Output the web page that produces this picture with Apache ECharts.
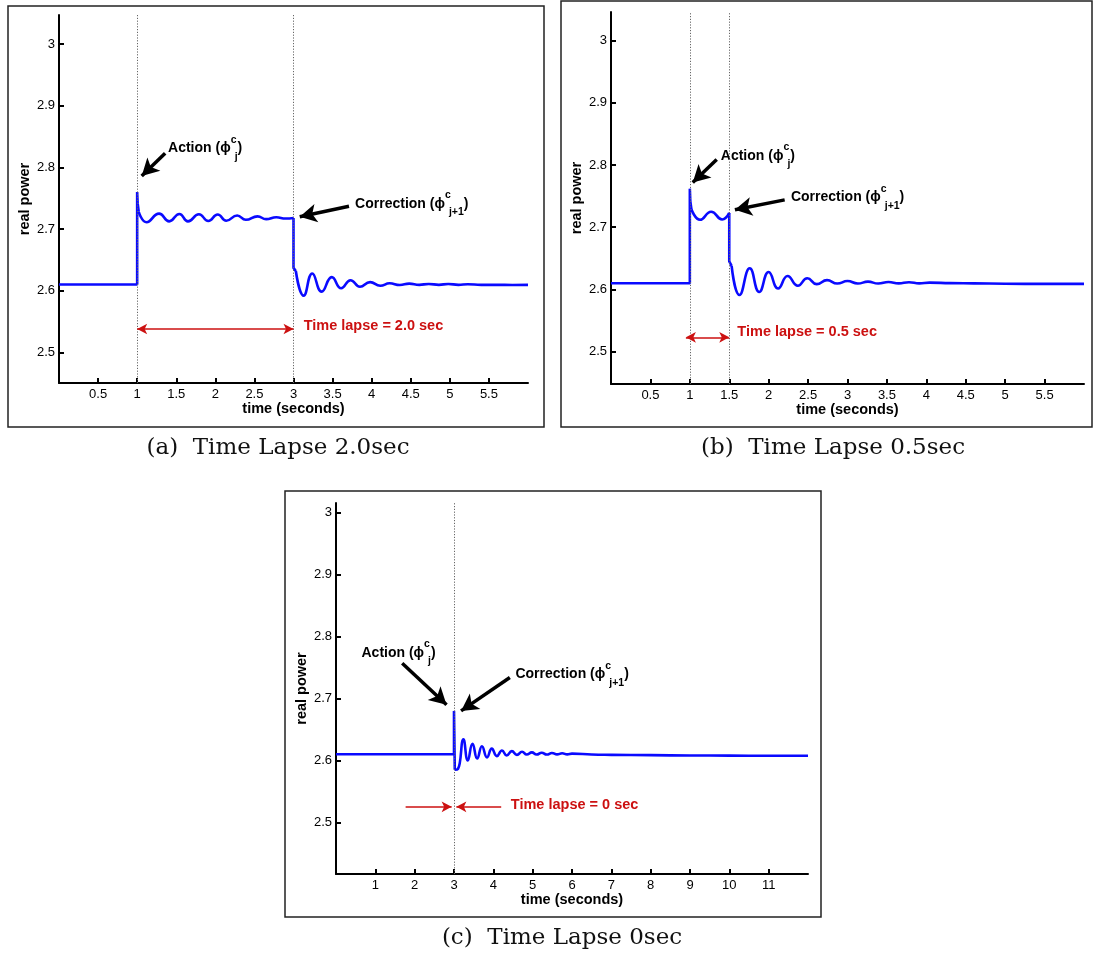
<!DOCTYPE html>
<html><head><meta charset="utf-8">
<script src="https://cdn.jsdelivr.net/npm/echarts@6/dist/echarts.min.js"></script>
<style>html,body{margin:0;padding:0;background:#fff}#c{width:1093px;height:957px}</style>
</head><body><div id="c"></div>
<script>
// ---- tick labels ----
const xTicksAB = [0.5, 1, 1.5, 2, 2.5, 3, 3.5, 4, 4.5, 5, 5.5];
const xTicksC = [1, 2, 3, 4, 5, 6, 7, 8, 9, 10, 11];
const yTicks = [2.5, 2.6, 2.7, 2.8, 2.9, 3];

// ---- panel (a): time lapse 2.0 s ----
const aBase = [[0, 2.61], [1, 2.61], [1, 2.76], [1.006, 2.742], [1.02, 2.728]];
const aRing1 = [[1.02, 2.728], [1.12, 2.711], [1.28, 2.725], [1.41, 2.7125], [1.54, 2.7245], [1.65, 2.7125], [1.79, 2.724], [1.91, 2.713], [2.03, 2.7235], [2.14, 2.7135], [2.28, 2.722], [2.39, 2.715], [2.54, 2.7205], [2.65, 2.716], [2.78, 2.719], [2.9, 2.717], [3.0, 2.718]];
const aDrop = [[3, 2.718], [3, 2.637], [3.03, 2.632]];
const aRing2 = [[3.03, 2.632], [3.13, 2.592], [3.24, 2.628], [3.36, 2.5985], [3.49, 2.622], [3.61, 2.604], [3.73, 2.617], [3.85, 2.6065], [3.98, 2.614], [4.11, 2.608], [4.23, 2.612], [4.36, 2.6092], [4.48, 2.6115], [4.61, 2.6095], [4.73, 2.611], [4.86, 2.6095], [4.98, 2.611], [5.11, 2.6095], [5.23, 2.6105], [5.4, 2.6095], [5.6, 2.6095], [5.8, 2.6093], [6.0, 2.6095]];

// ---- panel (b): time lapse 0.5 s ----
const bBase = [[0, 2.61], [1, 2.61], [1, 2.762], [1.006, 2.742], [1.02, 2.729]];
const bRing1 = [[1.02, 2.729], [1.13, 2.712], [1.27, 2.725], [1.41, 2.7125], [1.5, 2.723]];
const bDrop = [[1.5, 2.723], [1.5, 2.645], [1.53, 2.638]];
const bRing2 = [[1.53, 2.638], [1.63, 2.591], [1.76, 2.634], [1.88, 2.596], [2.0, 2.628], [2.12, 2.6015], [2.24, 2.6215], [2.37, 2.606], [2.49, 2.618], [2.61, 2.6085], [2.74, 2.615], [2.87, 2.6095], [3.0, 2.6135], [3.13, 2.6095], [3.26, 2.6125], [3.39, 2.6095], [3.52, 2.612], [3.65, 2.6098], [3.78, 2.6115], [3.91, 2.6098], [4.04, 2.611], [4.3, 2.6102], [4.6, 2.6098], [5.0, 2.6092], [5.5, 2.609], [6.0, 2.609]];

// ---- panel (c): time lapse 0 s ----
const cBase = [[0, 2.61], [3, 2.61], [3, 2.68], [3.02, 2.585]];
const cRing = [[3.02, 2.585], [3.1, 2.586], [3.24, 2.634], [3.35, 2.6], [3.47, 2.627], [3.59, 2.603], [3.71, 2.623], [3.84, 2.605], [3.96, 2.619], [4.09, 2.607], [4.22, 2.616], [4.34, 2.608], [4.47, 2.615], [4.6, 2.609], [4.73, 2.614], [4.85, 2.6095], [4.98, 2.613], [5.1, 2.6095], [5.23, 2.6125], [5.36, 2.6095], [5.49, 2.612], [5.62, 2.6098], [5.75, 2.6115], [5.88, 2.6098], [6.0, 2.611], [6.5, 2.6095], [7, 2.609], [8, 2.6085], [9, 2.608], [10, 2.6078], [11, 2.6075], [12, 2.6075]];

const captions = ['(a)  Time Lapse 2.0sec', '(b)  Time Lapse 0.5sec', '(c)  Time Lapse 0sec'];
const lapseTexts = ['Time lapse = 2.0 sec', 'Time lapse = 0.5 sec', 'Time lapse = 0 sec'];

const FONT = "'Liberation Sans', Arial, Helvetica, sans-serif";
const SERIF = "'DejaVu Serif', serif";
const BLUE = '#0a0aff', RED = '#cc1111';

const panels = [
  { grid: { left: 59, top: 15, width: 469, height: 368 }, x: [0, 6], y: [2.4504, 3.047], xt: xTicksAB,
    segs: [[aBase, false], [aRing1, true], [aDrop, false], [aRing2, true]],
    vlines: [1, 3],
    arrows: [[[1.358, 2.823], [1.058, 2.786]], [[3.71, 2.737], [3.08, 2.72]]],
    red: [[[1, 2.538], [3, 2.538], true]],
    actionAt: [1.395, 2.831], corrAt: [3.788, 2.741], lapseAt: [3.13, 2.543],
    box: [8, 6, 536, 421], cap: [278, 448] },
  { grid: { left: 611, top: 12, width: 473, height: 372 }, x: [0, 6], y: [2.448, 3.046], xt: xTicksAB,
    segs: [[bBase, false], [bRing1, true], [bDrop, false], [bRing2, true]],
    vlines: [1, 1.5],
    arrows: [[[1.341, 2.809], [1.037, 2.772]], [[2.203, 2.744], [1.572, 2.728]]],
    red: [[[0.95, 2.523], [1.5, 2.523], true]],
    actionAt: [1.393, 2.815], corrAt: [2.282, 2.748], lapseAt: [1.603, 2.532],
    box: [561, 1, 531, 426], cap: [833, 448] },
  { grid: { left: 336, top: 503, width: 472, height: 371 }, x: [0, 12], y: [2.4166, 3.0157], xt: xTicksC,
    segs: [[cBase, false], [cRing, true]],
    vlines: [3],
    arrows: [[[1.683, 2.757], [2.81, 2.69]], [[4.42, 2.734], [3.18, 2.68]]],
    red: [[[1.77, 2.525], [2.94, 2.525], false], [[4.2, 2.525], [3.06, 2.525], false]],
    actionAt: [0.648, 2.774], corrAt: [4.562, 2.739], lapseAt: [4.445, 2.528],
    box: [285, 491, 536, 426], cap: [562, 938] }
];

const axisName = { fontFamily: FONT, fontWeight: 'bold', fontSize: 14.5, color: '#000' };
const tickLab = { fontFamily: FONT, fontSize: 13, color: '#000' };

const grids = panels.map(p => Object.assign({ containLabel: false, outerBoundsMode: 'none' }, p.grid));
const xAxes = panels.map((p, i) => ({
  type: 'value', gridIndex: i, min: p.x[0], max: p.x[1],
  axisLine: { show: true, onZero: false, lineStyle: { color: '#000', width: 2 } },
  axisTick: { show: true, inside: true, length: 5, customValues: p.xt, lineStyle: { color: '#000', width: 2 } },
  axisLabel: Object.assign({ customValues: p.xt, margin: 5 }, tickLab),
  splitLine: { show: false },
  name: 'time (seconds)', nameLocation: 'middle', nameGap: 18, nameTextStyle: axisName
}));
const yAxes = panels.map((p, i) => ({
  type: 'value', gridIndex: i, min: p.y[0], max: p.y[1],
  axisLine: { show: true, onZero: false, lineStyle: { color: '#000', width: 2 } },
  axisTick: { show: true, inside: true, length: 5, customValues: yTicks, lineStyle: { color: '#000', width: 2 } },
  axisLabel: Object.assign({ customValues: yTicks, margin: 4 }, tickLab),
  splitLine: { show: false },
  name: 'real power', nameLocation: 'middle', nameGap: 27, nameTextStyle: axisName
}));

const series = [];
panels.forEach((p, i) => {
  p.segs.forEach((s, k) => {
    const ser = {
      type: 'line', xAxisIndex: i, yAxisIndex: i, data: s[0], smooth: s[1] ? 0.5 : false,
      showSymbol: false, symbol: 'none', animation: false, silent: true,
      lineStyle: { color: BLUE, width: 2.6 }, z: 3
    };
    if (k === 0) {
      const ml = [];
      p.vlines.forEach(v => ml.push({ xAxis: v, symbol: 'none',
        lineStyle: { color: '#666', width: 1, type: [1.2, 1.6] } }));
      p.arrows.forEach(a => ml.push([
        { coord: a[0], symbol: 'none', lineStyle: { color: '#000', width: 3.5, type: 'solid' } },
        { coord: a[1], symbol: 'arrow', symbolSize: [14, 17] }
      ]));
      p.red.forEach(r => ml.push([
        { coord: r[0], symbol: r[2] ? 'arrow' : 'none', symbolSize: [8, 10],
          lineStyle: { color: RED, width: 1.5, type: 'solid' } },
        { coord: r[1], symbol: 'arrow', symbolSize: [8, 10] }
      ]));
      ser.markLine = { silent: true, animation: false, label: { show: false }, symbol: 'none',
        emphasis: { disabled: true }, data: ml };
    }
    series.push(ser);
  });
});

const chart = echarts.init(document.getElementById('c'));
chart.setOption({ animation: false, backgroundColor: '#fff', grid: grids, xAxis: xAxes, yAxis: yAxes, series });

const rich = {
  b: { fontFamily: FONT, fontWeight: 'bold', fontSize: 14, lineHeight: 28, color: '#000', verticalAlign: 'middle' },
  sup: { fontFamily: FONT, fontWeight: 'bold', fontSize: 10.5, lineHeight: 16, color: '#000', verticalAlign: 'top', width: 4 },
  sub: { fontFamily: FONT, fontWeight: 'bold', fontSize: 10.5, lineHeight: 14, color: '#000', verticalAlign: 'bottom' }
};
const graphics = [];
panels.forEach((p, i) => {
  graphics.push({ type: 'rect', silent: true, shape: { x: p.box[0], y: p.box[1], width: p.box[2], height: p.box[3] },
    style: { fill: 'none', stroke: '#222', lineWidth: 1.5 } });
  const A = chart.convertToPixel({ gridIndex: i }, p.actionAt);
  const C = chart.convertToPixel({ gridIndex: i }, p.corrAt);
  const L = chart.convertToPixel({ gridIndex: i }, p.lapseAt);
  graphics.push({ type: 'text', silent: true, x: A[0], y: A[1],
    style: { text: '{b|Action (ϕ}{sup|c}{sub|j}{b|)}', rich, align: 'left', verticalAlign: 'middle' } });
  graphics.push({ type: 'text', silent: true, x: C[0], y: C[1],
    style: { text: '{b|Correction (ϕ}{sup|c}{sub|j+1}{b|)}', rich, align: 'left', verticalAlign: 'middle' } });
  graphics.push({ type: 'text', silent: true, x: L[0], y: L[1],
    style: { text: lapseTexts[i], fill: RED, font: 'bold 14.5px ' + FONT, align: 'left', verticalAlign: 'middle' } });
  graphics.push({ type: 'text', silent: true, x: p.cap[0], y: p.cap[1],
    style: { text: captions[i], fill: '#111', font: '23px ' + SERIF, align: 'center', verticalAlign: 'middle' } });
});
chart.setOption({ graphic: graphics });
</script></body></html>
